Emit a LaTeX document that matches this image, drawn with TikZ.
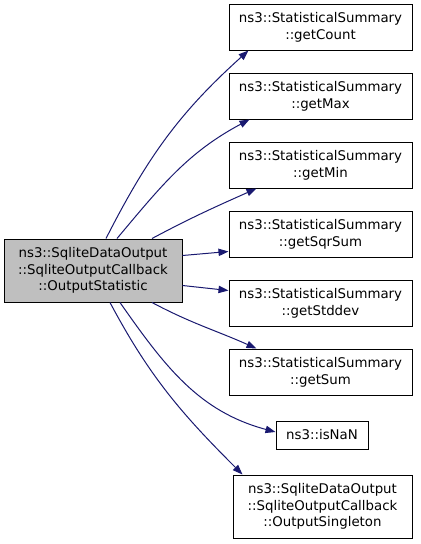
\documentclass[tikz,border=0pt]{standalone}
\usepackage{fontspec}
\setmainfont{DejaVu Sans}
\usetikzlibrary{arrows.meta,calc}
\definecolor{edgeblue}{HTML}{191970}
\definecolor{srcgray}{HTML}{BFBFBF}
\begin{document}
\begin{tikzpicture}[x=0.75pt,y=-0.75pt,
  box/.style={draw=black,line width=0.75pt,inner sep=0pt,align=center,
    font=\fontsize{10}{12.5}\selectfont},
  wbox/.style={box,minimum width=137.25pt,minimum height=34.5pt},
  edge/.style={draw=edgeblue,line width=0.75pt,-{Triangle[length=7.5pt,width=5.5pt]}}]
\useasboundingbox (0,0) rectangle (421,544);
\node[box,fill=srcgray,minimum width=133.5pt,minimum height=47.25pt] (src) at (93,270.5)
  {ns3::SqliteDataOutput\\::SqliteOutputCallback\\::OutputStatistic};
\node[wbox] (cnt) at (320.5,27) {ns3::StatisticalSummary\\::getCount};
\node[wbox] (max) at (320.5,96) {ns3::StatisticalSummary\\::getMax};
\node[wbox] (min) at (320.5,165) {ns3::StatisticalSummary\\::getMin};
\node[wbox] (sqr) at (320.5,234) {ns3::StatisticalSummary\\::getSqrSum};
\node[wbox] (std) at (320.5,303) {ns3::StatisticalSummary\\::getStddev};
\node[wbox] (sum) at (320.5,372) {ns3::StatisticalSummary\\::getSum};
\node[box,minimum width=69pt,minimum height=21pt] (nan) at (322,435) {ns3::isNaN};
\node[box,minimum width=134.25pt,minimum height=47.25pt] (sgl) at (322.5,506.5)
  {ns3::SqliteDataOutput\\::SqliteOutputCallback\\::OutputSingleton};
\draw[edge] ($(src.north)+(13,0)$) to[out=63,in=222] ($(cnt.south west)+(20,0)$);
\draw[edge] ($(src.north)+(24,0)$) to[out=50,in=208] ($(max.south west)+(21,0)$);
\draw[edge] ($(src.north)+(59,0)$) to[out=28,in=204] ($(min.south west)+(28,0)$);
\draw[edge] ($(src.north east)+(0,17)$) -- ($(sqr.south west)+(0,-6)$);
\draw[edge] ($(src.south east)+(0,-17)$) -- ($(std.north west)+(0,11)$);
\draw[edge] ($(src.south)+(59,0)$) to[out=-28,in=156] ($(sum.north west)+(28,0)$);
\draw[edge] ($(src.south)+(27,0)$) to[out=-55,in=165] ($(nan.west)+(0,-3)$);
\draw[edge] ($(src.south)+(17,0)$) to[out=-62,in=135] ($(sgl.north west)+(10,0)$);
\end{tikzpicture}
\end{document}
